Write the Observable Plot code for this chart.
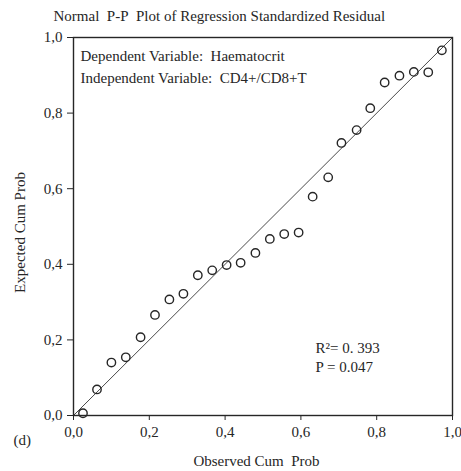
<!DOCTYPE html>
<html><head><meta charset="utf-8">
<script src="https://cdn.jsdelivr.net/npm/d3@7"></script>
<script src="https://cdn.jsdelivr.net/npm/@observablehq/plot@0.6"></script>
<style>body{margin:0;background:#fff}</style>
</head><body><div id="chart"></div>
<script>
const observedCumProb = [0.025,0.062,0.100,0.138,0.177,0.215,0.253,0.290,0.328,0.366,0.404,0.441,0.480,0.518,0.556,0.594,0.631,0.672,0.707,0.747,0.783,0.821,0.860,0.898,0.936,0.972];
const expectedCumProb = [0.006,0.069,0.140,0.154,0.207,0.266,0.307,0.322,0.371,0.384,0.398,0.404,0.430,0.467,0.480,0.484,0.579,0.630,0.721,0.755,0.813,0.881,0.899,0.909,0.908,0.966];
const tickValues = [0,0.2,0.4,0.6,0.8,1.0];
const refLine = [0,1];
const titleText = "Normal\u00a0 P-P\u00a0 Plot of Regression Standardized Residual";
const xLabel = "Observed Cum\u00a0 Prob";
const yLabel = "Expected Cum Prob";
const infoLines = ["Dependent Variable:\u00a0 Haematocrit", "Independent Variable:\u00a0 CD4+/CD8+T"];
const statLines = ["R\u00b2= 0. 393", "P = 0.047"];
const panelLabel = "(d)";

const points = observedCumProb.map((x,i)=>({x, y: expectedCumProb[i]}));
const fmt = d => d.toFixed(1).replace(".", ",");
const ink = "#262626";
const font = "'Liberation Serif', 'DejaVu Serif', serif";
const fs = 15;

const txt = (s, o) => Plot.text([s], {textAnchor: "start", lineAnchor: "middle", fontSize: fs, fill: ink, ...o});

const chart = Plot.plot({
  width: 461, height: 471,
  marginLeft: 73, marginRight: 9, marginTop: 37, marginBottom: 56,
  style: {fontFamily: font, fontSize: fs + "px", color: ink, background: "#fff"},
  x: {domain: [0,1]},
  y: {domain: [0,1]},
  marks: [
    Plot.axisX({ticks: tickValues, tickFormat: fmt, tickSize: 5, tickPadding: 6, label: null, fontSize: fs}),
    Plot.axisY({ticks: tickValues, tickFormat: fmt, tickSize: 6, tickPadding: 5, label: null, fontSize: fs}),
    Plot.line(refLine, {x: d=>d, y: d=>d, stroke: "#4a4a4a", strokeWidth: 1}),
    Plot.dot(points, {x: "x", y: "y", r: 4.2, stroke: ink, strokeWidth: 1.4, fill: "none"}),
    Plot.frame({stroke: ink, strokeWidth: 1.4}),
    txt(titleText, {frameAnchor: "top-left", dx: -20, dy: -21}),
    txt(infoLines[0], {frameAnchor: "top-left", dx: 7, dy: 19}),
    txt(infoLines[1], {frameAnchor: "top-left", dx: 7, dy: 40.5}),
    txt(statLines[0], {frameAnchor: "top-left", dx: 242, dy: 311}),
    txt(statLines[1], {frameAnchor: "top-left", dx: 242, dy: 330}),
    txt(panelLabel, {frameAnchor: "bottom-left", dx: -60, dy: 25}),
    txt(xLabel, {frameAnchor: "bottom", textAnchor: "middle", dx: -6.5, dy: 46}),
    txt(yLabel, {frameAnchor: "left", textAnchor: "middle", rotate: -90, dx: -53, dy: 6})
  ]
});
document.getElementById("chart").appendChild(chart);
</script>
</body></html>
